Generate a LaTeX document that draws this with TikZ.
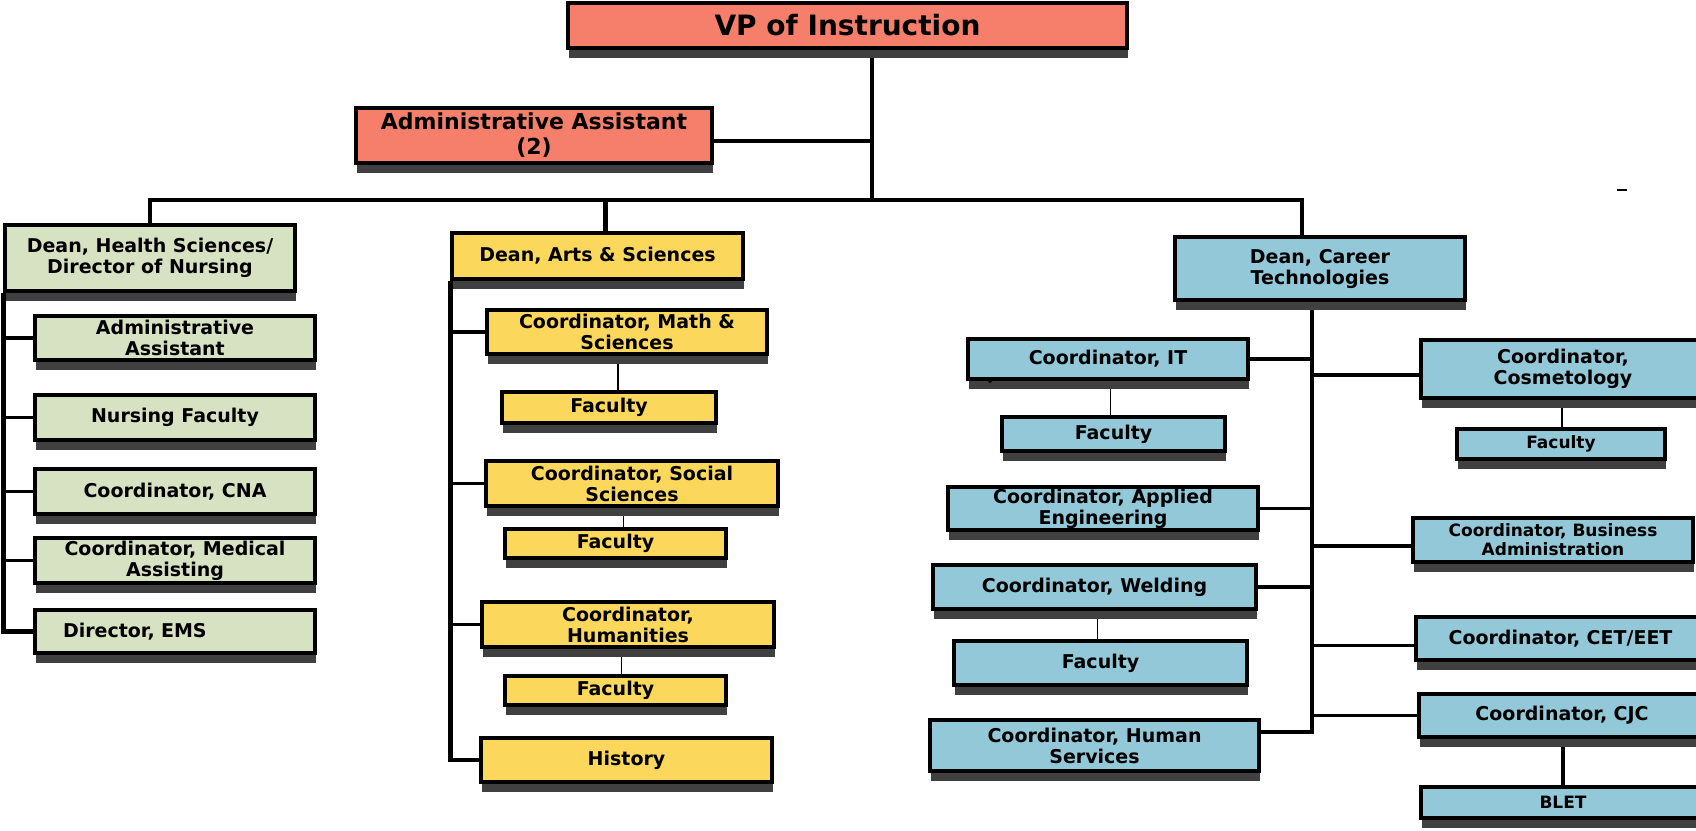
\documentclass[tikz,border=0pt]{standalone}
\usepackage{fontspec}
\setmainfont{DejaVu Sans}
\usetikzlibrary{shapes, shadows, calc, positioning, backgrounds}
\definecolor{vpred}{HTML}{F57F6B}
\definecolor{hsgreen}{HTML}{D7E2C2}
\definecolor{asyellow}{HTML}{FBD85B}
\definecolor{ctblue}{HTML}{93C8D8}
\definecolor{shadowgray}{HTML}{404040}

\begin{document}
\begin{tikzpicture}[x=0.5pt, y=-0.5pt,
        orgbox/.style={draw=black, line width=1.6pt, align=center, inner sep=0.5pt,
            font=\bfseries\fontsize{9.5}{10.5}\selectfont,
            drop shadow={shadow xshift=0.6pt, shadow yshift=-4.8pt, fill=shadowgray, opacity=1}},
        vpbox/.style={orgbox, fill=vpred},
        hsbox/.style={orgbox, fill=hsgreen, minimum width=140pt},
        asbox/.style={orgbox, fill=asyellow},
        ctbox/.style={orgbox, fill=ctblue},
        smalltext/.style={font=\bfseries\fontsize{8.5}{9.5}\selectfont},
        bus/.style={line width=2.2pt},
        branch/.style={line width=1.6pt},
        link/.style={line width=0.7pt}]
            \useasboundingbox (0,0) rectangle (1696,830);

            \node[vpbox, minimum width=279.5pt, minimum height=22.5pt, font=\bfseries\fontsize{14}{16}\selectfont] (vp) at (847.5,25.5) {VP of Instruction};
            \node[vpbox, minimum width=178pt, minimum height=27.5pt, font=\bfseries\fontsize{11}{12.5}\selectfont] (adm2) at (534,135.5) {Administrative Assistant\\(2)};

            \node[hsbox, minimum width=145pt, minimum height=33pt] (hs) at (150,258) {Dean, Health Sciences/\\Director of Nursing};
            \node[asbox, minimum width=145.5pt, minimum height=23pt] (as) at (597.5,256) {Dean, Arts \& Sciences};
            \node[ctbox, minimum width=145pt, minimum height=31.5pt] (ct) at (1320,268.5) {Dean, Career\\Technologies};

            \node[hsbox, minimum height=22pt] (hsadm) at (175,338) {Administrative\\Assistant};
            \node[hsbox, minimum height=22.5pt] (nurs) at (175,417.5) {Nursing Faculty};
            \node[hsbox, minimum height=22.5pt] (cna) at (175,491.5) {Coordinator, CNA};
            \node[hsbox, minimum height=22.5pt] (med) at (175,560.5) {Coordinator, Medical\\Assisting};
            \node[hsbox, minimum height=21.5pt, text width=112pt, inner xsep=14pt, align=left] (ems) at (175,631.5) {Director, EMS};

            \node[asbox, minimum width=140pt, minimum height=22pt] (math) at (627,332) {Coordinator, Math \&\\Sciences};
            \node[asbox, minimum width=107pt, minimum height=15.5pt] (mathf) at (609,407.5) {Faculty};
            \node[asbox, minimum width=146pt, minimum height=22.5pt] (soc) at (632,483.5) {Coordinator, Social\\Sciences};
            \node[asbox, minimum width=110.5pt, minimum height=14.5pt] (socf) at (615.5,543.5) {Faculty};
            \node[asbox, minimum width=146pt, minimum height=22.5pt] (hum) at (628,624.5) {Coordinator,\\Humanities};
            \node[asbox, minimum width=110.5pt, minimum height=14.5pt] (humf) at (615.5,690.5) {Faculty};
            \node[asbox, minimum width=145.5pt, minimum height=22pt] (hist) at (626.5,760) {History};

            \node[ctbox, minimum width=140pt, minimum height=20pt] (it) at (1108,359) {Coordinator, IT};
            \node[ctbox, minimum width=111.5pt, minimum height=17pt] (itf) at (1113.5,434) {Faculty};
            \node[ctbox, minimum width=155pt, minimum height=21.5pt] (ae) at (1103,508.5) {Coordinator, Applied\\Engineering};
            \node[ctbox, minimum width=161.5pt, minimum height=22pt] (weld) at (1094.5,587) {Coordinator, Welding};
            \node[ctbox, minimum width=146.5pt, minimum height=22pt] (weldf) at (1100.5,663) {Faculty};
            \node[ctbox, minimum width=164.5pt, minimum height=25.5pt] (hsv) at (1094.5,745.5) {Coordinator, Human\\Services};

            \node[ctbox, minimum width=142pt, minimum height=29pt, text width=136pt] (cos) at (1563,369) {Coordinator,\\Cosmetology};
            \node[ctbox, smalltext, minimum width=104pt, minimum height=15pt] (cosf) at (1561,444) {Faculty};
            \node[ctbox, smalltext, minimum width=140pt, minimum height=22pt] (busadm) at (1553,540) {Coordinator, Business\\Administration};
            \node[ctbox, minimum width=144.5pt, minimum height=21.5pt, text width=136pt] (cet) at (1560.5,638.5) {Coordinator, CET/EET};
            \node[ctbox, minimum width=143pt, minimum height=21.5pt, text width=136pt] (cjc) at (1562,715.5) {Coordinator, CJC};
            \node[ctbox, smalltext, minimum width=142pt, minimum height=15.5pt, text width=136pt] (blet) at (1563,802.5) {BLET};

            \begin{scope}[on background layer]
                \coordinate (hub) at (872,200);
                \coordinate (ctbus) at ([xshift=-4pt]ct.south);
                \draw[bus] (vp.south -| hub) -- (hub);
                \draw[bus] ([yshift=-2.75pt]adm2.east) -- ([yshift=-2.75pt]adm2.east -| hub);
                \draw[bus] (hs.north) |- (hub) -| ([xshift=-9pt]ct.north);
                \draw[bus] ([xshift=4pt]as.north) -- ([xshift=4pt]as.north |- hub);

                \draw[bus] (hs.south west) |- (ems.west);
                \foreach \n in {hsadm, nurs, cna, med}
                    \draw[branch] (hs.south west |- \n.west) -- (\n.west);

                \draw[bus] (as.south west) |- (hist.west);
                \foreach \n in {math, soc, hum}
                    \draw[branch] (as.south west |- \n.west) -- (\n.west);

                \draw[bus] (ctbus) |- ([yshift=6.75pt]hsv.east);
                \foreach \n in {it, ae, weld}
                    \draw[branch] (\n.east) -- (\n.east -| ctbus);
                \foreach \n/\dy in {cos/-3pt, busadm/-3pt, cet/-3.5pt, cjc/0pt}
                    \draw[branch] ([yshift=\dy]\n.west) -- ([yshift=\dy]\n.west -| ctbus);

                \foreach \a/\b in {math/mathf, soc/socf, hum/humf, it/itf, weld/weldf, cos/cosf} {
                    \coordinate (mid) at ($(\a)!0.5!(\b)$);
                    \draw[link] (mid |- \a) -- (mid |- \b);
                }
                \draw[bus] (blet) -- (blet |- cjc);
            \end{scope}

            \draw[line width=0.8pt] (1617,190) -- (1627,190);
            \fill (990,381) circle (1pt);

        \end{tikzpicture}
\end{document}
